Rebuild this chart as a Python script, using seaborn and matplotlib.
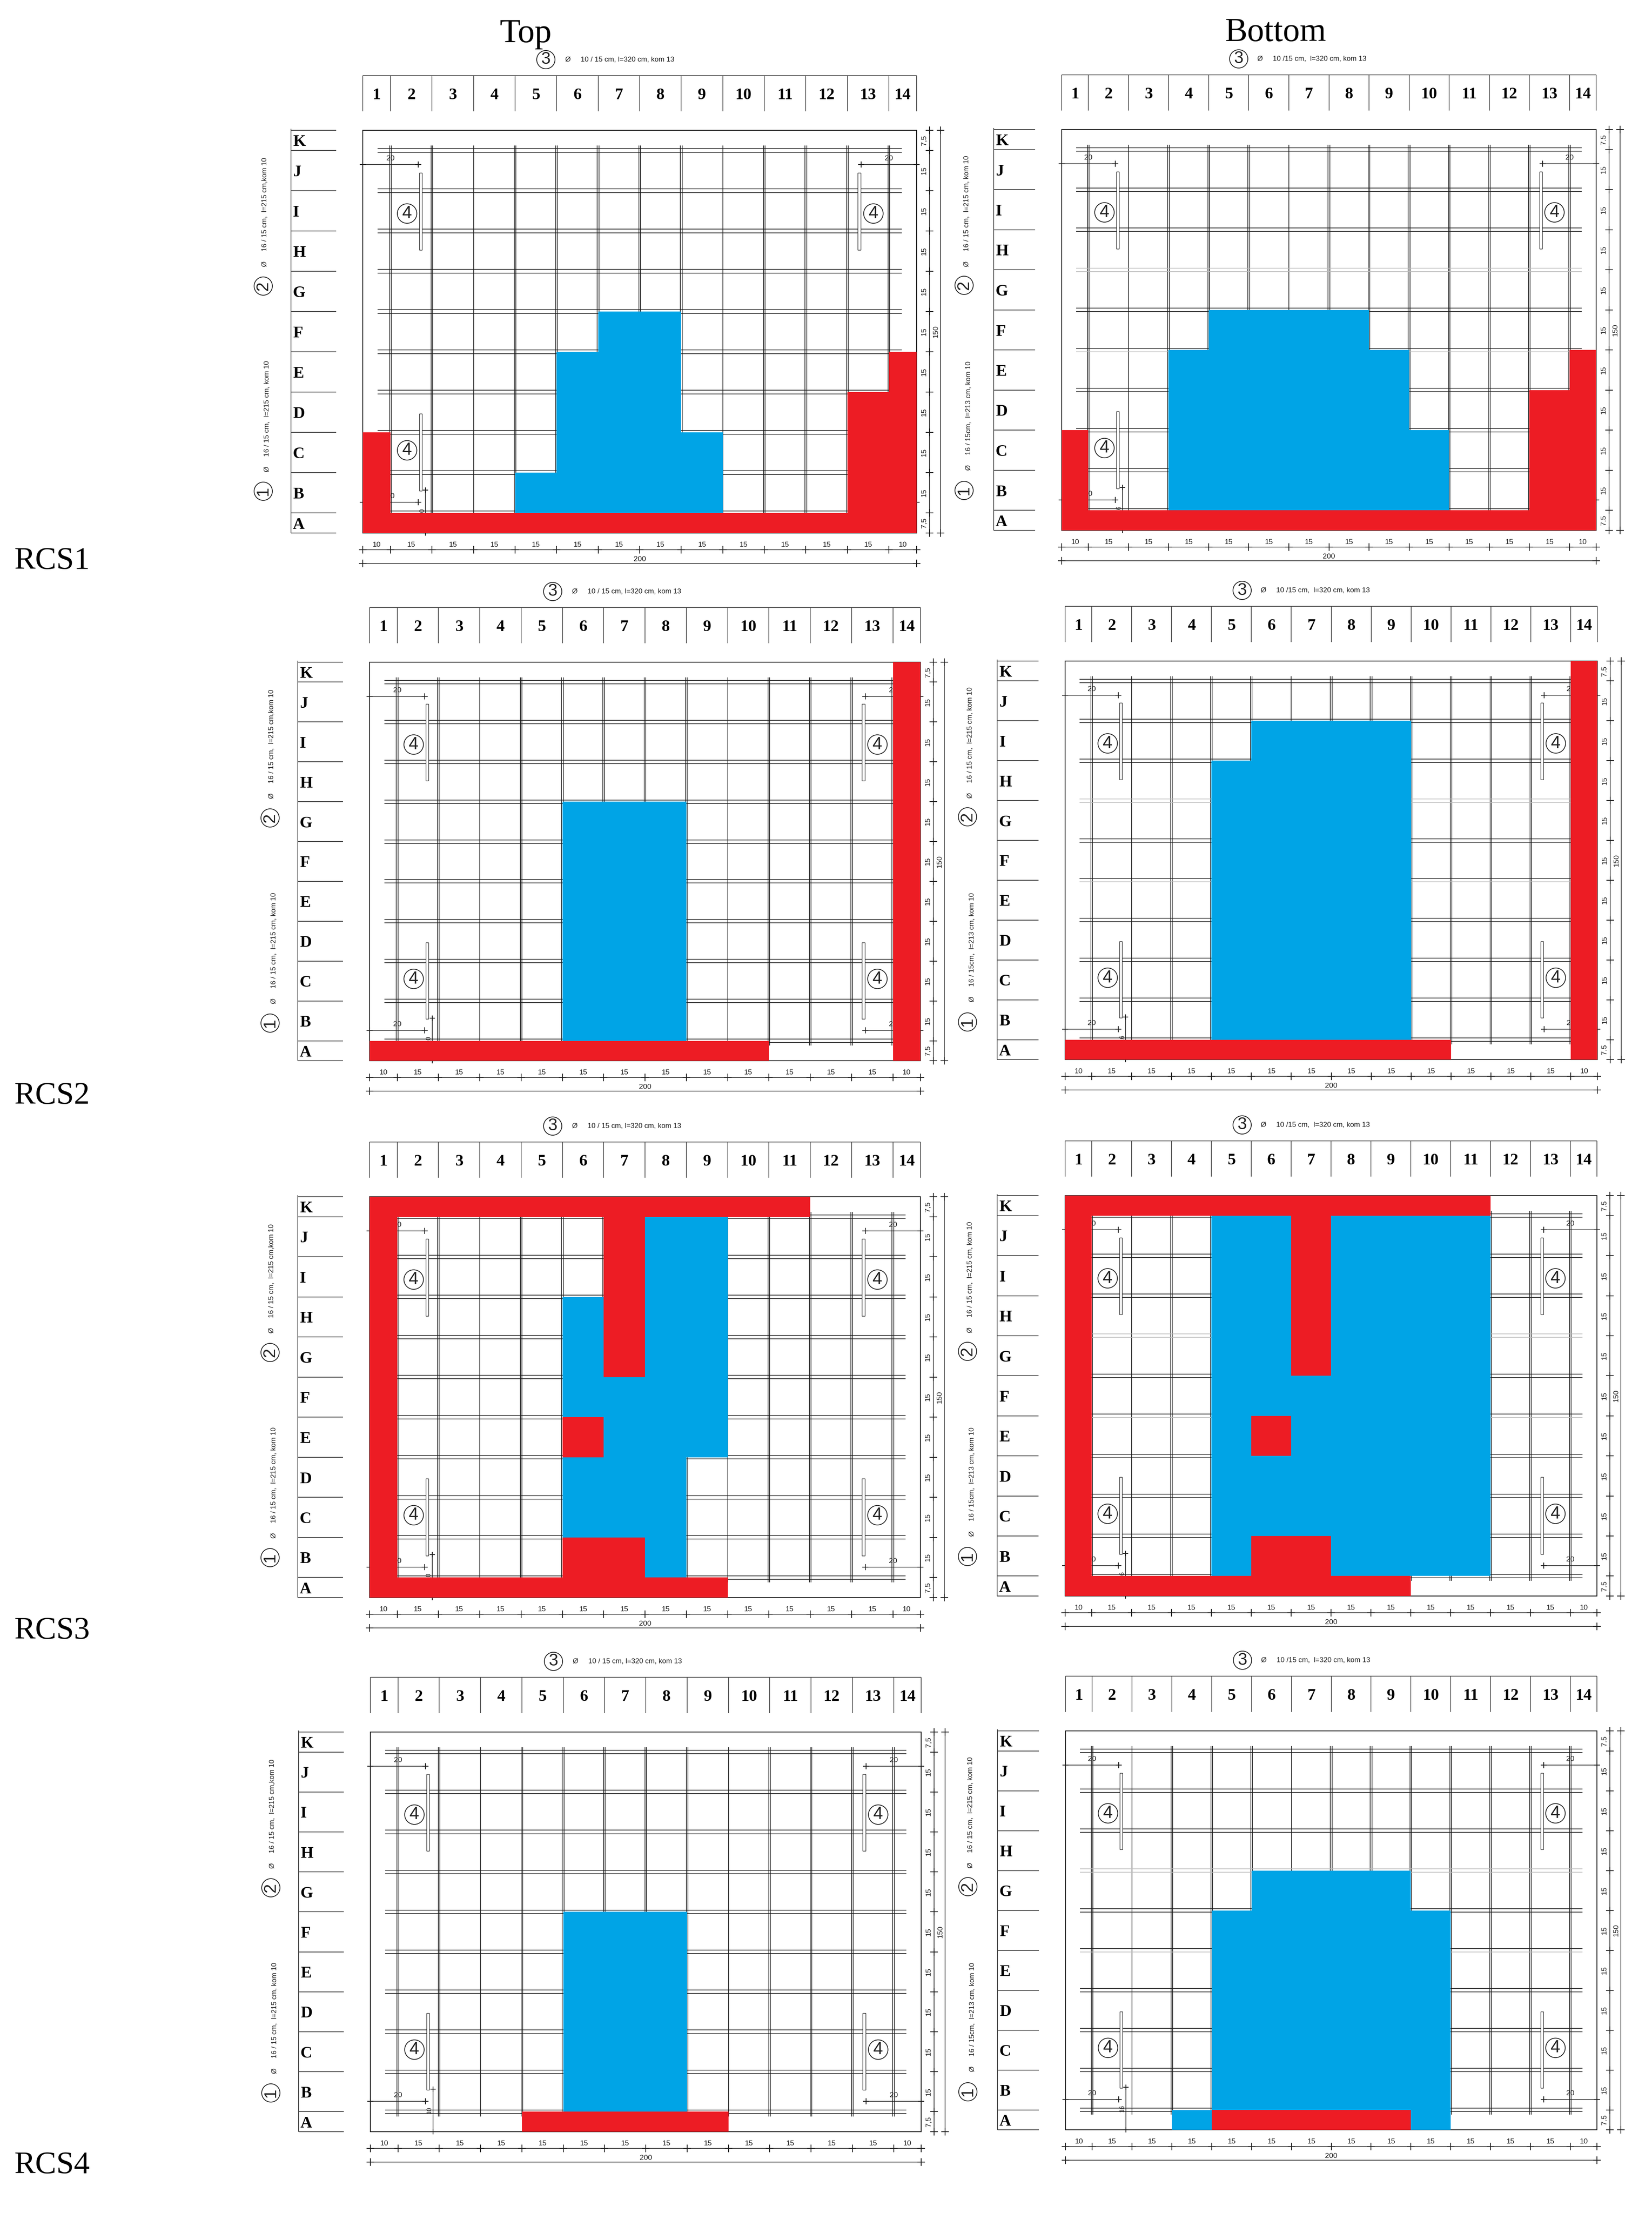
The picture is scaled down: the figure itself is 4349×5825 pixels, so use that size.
import numpy as np
import matplotlib
matplotlib.use("Agg")
import matplotlib.pyplot as plt
from matplotlib.colors import ListedColormap
from matplotlib.patches import Rectangle
import seaborn as sb

# cell state per slab, rows K..A, columns 1..14 (. none, b blue, r red)
TOP_RCS1 = ["..............", "..............", "..............", "..............", "..............",
            "......bb......", ".....bbb.....r", ".....bbb....rr", "r....bbbb...rr", "r...bbbbb...rr", "rrrrrrrrrrrrrr"]
BOTTOM_RCS1 = ["..............", "..............", "..............", "..............", "..............",
               "....bbbb......", "...bbbbbb....r", "...bbbbbb...rr", "r..bbbbbbb..rr", "r..bbbbbbb..rr", "rrrrrrrrrrrrrr"]
TOP_RCS2 = [".............r", ".............r", ".............r", ".............r", ".....bbb.....r",
            ".....bbb.....r", ".....bbb.....r", ".....bbb.....r", ".....bbb.....r", ".....bbb.....r", "rrrrrrrrrr...r"]
BOTTOM_RCS2 = [".............r", ".............r", ".....bbbb....r", "....bbbbb....r", "....bbbbb....r",
               "....bbbbb....r", "....bbbbb....r", "....bbbbb....r", "....bbbbb....r", "....bbbbb....r", "rrrrrrrrrr...r"]
TOP_RCS3 = ["rrrrrrrrrrr...", "r.....rbb.....", "r.....rbb.....", "r....brbb.....", "r....brbb.....",
            "r....bbbb.....", "r....rbbb.....", "r....bbb......", "r....bbb......", "r....rrb......", "rrrrrrrrr....."]
BOTTOM_RCS3 = ["rrrrrrrrrrr...", "r...bbrbbbb...", "r...bbrbbbb...", "r...bbrbbbb...", "r...bbrbbbb...",
               "r...bbbbbbb...", "r...brbbbbb...", "r...bbbbbbb...", "r...bbbbbbb...", "r...brrbbbb...", "rrrrrrrrr....."]
TOP_RCS4 = ["..............", "..............", "..............", "..............", "..............",
            ".....bbb......", ".....bbb......", ".....bbb......", ".....bbb......", ".....bbb......", "....rrrrr....."]
BOTTOM_RCS4 = ["..............", "..............", "..............", "..............", ".....bbbb.....",
               "....bbbbbb....", "....bbbbbb....", "....bbbbbb....", "....bbbbbb....", "....bbbbbb....", "...brrrrrb...."]

ROW_NAMES = ["K", "J", "I", "H", "G", "F", "E", "D", "C", "B", "A"]
ROW_CM = [7.5, 15, 15, 15, 15, 15, 15, 15, 15, 15, 7.5]
COL_CM = [10, 15, 15, 15, 15, 15, 15, 15, 15, 15, 15, 15, 15, 10]
COL_NAMES = [str(i) for i in range(1, 15)]
SINGLE_BARS_TOP = [40, 130]
SINGLE_BARS_BOTTOM = [25, 85]
RCS_NAMES = ["RCS1", "RCS2", "RCS3", "RCS4"]

# left, right, top, bottom of the slab outline, in pixels
FRAMES_TOP = [(955, 2413, 343, 1403), (973, 2423, 1743, 2792), (973, 2423, 3150, 4205), (975, 2425, 4559, 5611)]
FRAMES_BOTTOM = [(2795, 4202, 341, 1396), (2804, 4205, 1740, 2789), (2804, 4204, 3147, 4201), (2805, 4204, 4556, 5606)]
RCS_BASE = [1497, 2905, 4313, 5720]

W, H = 4349, 5825
BLUE = "#00A4E6"
RED = "#ED1C24"
INK = "#1c1c1c"
GREY = "#bdbdbd"
SERIF = "Liberation Serif"
SANS = "Liberation Sans"

sb.set_style("white")
fig = plt.figure(figsize=(W / 100, H / 100), dpi=100)


def line(ax, xs, ys, color=INK, lw=1.25):
    ax.plot(xs, ys, color=color, lw=lw, clip_on=False, solid_capstyle="butt")


def ticks(ax, xs, ys, ms=15):
    ax.plot(xs, ys, "+", color=INK, ms=ms, mew=1.5, clip_on=False)


def circled(ax, x, y, s, size=33, rotation=0):
    ax.text(x, y, s, family=SANS, fontsize=size, ha="center", va="center", color="#222222", rotation=rotation,
            bbox=dict(boxstyle="circle,pad=0.08", fc="none", ec="#222222", lw=1.5))


def draw_slab(cells, frame, side):
    left, right, top, bottom = frame
    w, h = right - left, bottom - top
    rect = [left / W, 1 - bottom / H, w / W, h / H]
    px = 200 / w
    py = 150 / h

    ax = fig.add_axes(rect, zorder=1)
    ax.set_xlim(0, 200)
    ax.set_ylim(0, 150)
    ax.autoscale(False)
    ax.set_axis_off()

    col_edges = np.cumsum([0] + COL_CM)
    row_edges = 150 - np.cumsum([0] + ROW_CM)
    col_mid = (col_edges[:-1] + col_edges[1:]) / 2
    row_mid = (row_edges[:-1] + row_edges[1:]) / 2
    is_top = side == "Top"

    # outline
    ax.add_patch(Rectangle((0, 0), 200, 150, fc="none", ec=INK, lw=1.6, clip_on=False))

    # rebar mesh
    single = SINGLE_BARS_TOP if is_top else SINGLE_BARS_BOTTOM
    for x in col_edges[1:-1]:
        offs = [0] if x in single else [-0.3, 0.3]
        for o in offs:
            line(ax, [x + o, x + o], [5.7, 144.3])
    for y in row_edges[1:-1]:
        light = not is_top and y == 97.5
        line(ax, [5.4, 194.6], [y + 0.65, y + 0.65], color=GREY if light else INK)
        low = GREY if light or (not is_top and y == 67.5) else INK
        line(ax, [5.4, 194.6], [y - 0.65, y - 0.65], color=low)

    # position 4 bars with their labels
    for x0 in (20.4, 178.8):
        for y0 in (15.7, 105.4):
            ax.add_patch(Rectangle((x0, y0), 1.0, 28.8, fc="white", ec=INK, lw=1.0, zorder=2.5))
    for x in (16, 184.4):
        for y in (30.8, 119):
            circled(ax, x, y, "4")

    # 20 cm anchor dimensions and the small vertical one
    for y, x0, x1 in [(137.2, 0, 20), (137.2, 180, 200), (11.4, 0, 20), (11.4, 180, 200)]:
        line(ax, [x0, x1], [y, y], lw=1.2)
        ticks(ax, [x0, x1], [y, y], ms=12)
        ax.text((x0 + x1) / 2, y + 1.0, "20", family=SANS, fontsize=14, ha="center", va="bottom", color=INK)
    line(ax, [22.7, 22.7], [0, 16], lw=1.2)
    ticks(ax, [22.7, 22.7], [0, 16], ms=10)
    ax.text(21.4, 8, "10" if is_top else "16", family=SANS, fontsize=12, rotation=90, ha="center", va="center", color=INK)

    # column strip
    line(ax, [0, 200], [150 + 144 * py, 150 + 144 * py], color="#555555", lw=1.5)
    for x in col_edges:
        line(ax, [x, x], [150 + 144 * py, 150 + 50 * py], color="#444444", lw=1.3)
    for x, s in zip(col_mid, COL_NAMES):
        ax.text(x, 150 + 92 * py, s, family=SERIF, weight="bold", fontsize=31, ha="center", va="center", color="black")

    # row strip
    x0 = (-189 if is_top else -179) * px
    x1 = -70 * px
    line(ax, [x0, x0], [0, 150 + 4 * py], color="#333333", lw=1.3)
    for y in row_edges:
        line(ax, [x0, x1], [y, y], color="#444444", lw=1.5)
    for y, s in zip(row_mid, ROW_NAMES):
        ax.text(x0 + 5 * px, y - 5 * py, s, family=SERIF, weight="bold", fontsize=31, ha="left", va="center", color="black")

    # bottom dimensions
    y1 = -44 * py
    y2 = -80 * py
    line(ax, [-4 * px, 200 + 4 * px], [y1, y1], lw=1.2)
    line(ax, [-4 * px, 200 + 4 * px], [y2, y2], lw=1.2)
    ticks(ax, col_edges, [y1] * len(col_edges))
    ticks(ax, [0, 200], [y2, y2])
    for x, c in zip(col_mid, COL_CM):
        ax.text(x, y1 + 4 * py, str(c), family=SANS, fontsize=14, ha="center", va="bottom", color=INK)
    ax.text(100, y2 + 2 * py, "200", family=SANS, fontsize=14, ha="center", va="bottom", color=INK)

    # right dimensions
    x1 = 200 + 34 * px
    x2 = 200 + 63 * px
    line(ax, [x1, x1], [-3 * py, 150 + 3 * py], lw=1.2)
    line(ax, [x2, x2], [-3 * py, 150 + 3 * py], lw=1.2)
    ticks(ax, [x1] * len(row_edges), row_edges)
    ticks(ax, [x2, x2], [0, 150])
    half = "7,5" if is_top else "7.5"
    for y, c in zip(row_mid, ROW_CM):
        ax.text(200 + 20 * px, y, half if c == 7.5 else "15", family=SANS, fontsize=14, rotation=90,
                ha="center", va="center", color=INK)
    ax.text(200 + 51 * px, 75, "150", family=SANS, fontsize=14, rotation=90, ha="center", va="center", color=INK)

    # bar callouts
    if is_top:
        top_text = "Ø     10 / 15 cm, l=320 cm, kom 13"
        up_text = "Ø     16 / 15 cm,  l=215 cm,kom 10"
        low_text = "Ø     16 / 15 cm,  l=215 cm, kom 10"
        cx, tx, up_x, low_x, circ_x = 482, 533, -258, -252, -262
    else:
        top_text = "Ø     10 /15 cm,  l=320 cm, kom 13"
        up_text = "Ø     16 / 15 cm,  l=215 cm, kom 10"
        low_text = "Ø     16 / 15cm,  l=213 cm, kom 10"
        cx, tx, up_x, low_x, circ_x = 466, 515, -250, -245, -257
    circled(ax, cx * px, 150 + 186 * py, "3", size=32)
    ax.text(tx * px, 150 + 186 * py, top_text, family=SANS, fontsize=13.5, ha="left", va="center", color=INK)
    circled(ax, circ_x * px, 150 - 410 * py, "2", size=32, rotation=90)
    circled(ax, circ_x * px, 150 - 950 * py, "1", size=32, rotation=90)
    ax.text(up_x * px, 150 - 215 * py, up_text, family=SANS, fontsize=13.5, rotation=90,
            ha="center", va="center", color=INK)
    ax.text(low_x * px, 150 - 753 * py, low_text, family=SANS, fontsize=13.5, rotation=90,
            ha="center", va="center", color=INK)

    # coloured damage map on top of the mesh, cells repeated so widths come out as 10/15 and 7.5/15
    codes = np.array([[{".": 0, "b": 1, "r": 2}[c] for c in row] for row in cells], dtype=float)
    grid = np.repeat(codes, [int(c / 7.5) for c in ROW_CM], axis=0)
    grid = np.repeat(grid, [int(c / 5) for c in COL_CM], axis=1)
    fill_ax = fig.add_axes(rect, zorder=2)
    sb.heatmap(grid, mask=grid == 0, cmap=ListedColormap([BLUE, RED]), vmin=1, vmax=2, cbar=False,
               xticklabels=False, yticklabels=False, ax=fill_ax)
    fill_ax.set_axis_off()


for cells, frame in zip([TOP_RCS1, TOP_RCS2, TOP_RCS3, TOP_RCS4], FRAMES_TOP):
    draw_slab(cells, frame, "Top")
for cells, frame in zip([BOTTOM_RCS1, BOTTOM_RCS2, BOTTOM_RCS3, BOTTOM_RCS4], FRAMES_BOTTOM):
    draw_slab(cells, frame, "Bottom")

fig.text(1384 / W, 1 - 111 / H, "Top", family=SERIF, fontsize=64, ha="center", va="baseline", color="black")
fig.text(3358 / W, 1 - 108 / H, "Bottom", family=SERIF, fontsize=64, ha="center", va="baseline", color="black")
for name, y in zip(RCS_NAMES, RCS_BASE):
    fig.text(38 / W, 1 - y / H, name, family=SERIF, fontsize=60, ha="left", va="baseline", color="black")

fig.savefig("out.png", dpi=100, facecolor="white")
